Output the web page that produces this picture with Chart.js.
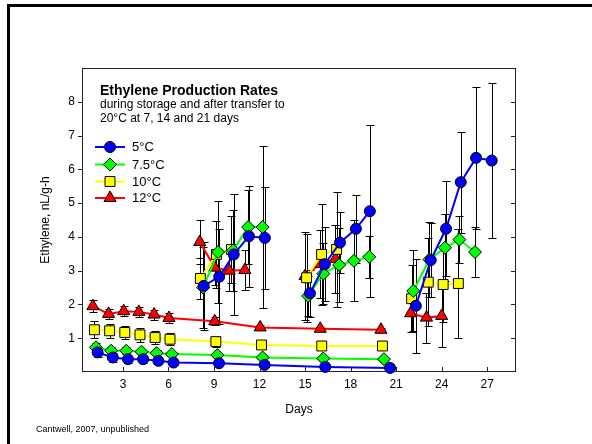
<!DOCTYPE html>
<html><head><meta charset="utf-8">
<script src="https://cdn.jsdelivr.net/npm/chart.js@4/dist/chart.umd.min.js"></script>
<style>
html,body{margin:0;padding:0;background:#fff;}
#wrap{position:relative;width:592px;height:444px;overflow:hidden;}
#frame{position:absolute;left:7px;top:4px;width:600px;height:460px;border-top:3px solid #000;border-left:3px solid #000;pointer-events:none;}
canvas{position:absolute;left:0;top:0;}
</style></head><body>
<div id="wrap"><canvas id="c" width="592" height="444"></canvas><div id="frame"></div></div>
<script>
// ---- data (null separates storage / transfer segments) ----
const seriesNames = ["5°C", "7.5°C", "10°C", "12°C"];
const xTickVals = [3, 6, 9, 12, 15, 18, 21, 24, 27];
const yTickVals = [1, 2, 3, 4, 5, 6, 7, 8];

const c5Days = [1.33,2.33,3.33,4.33,5.33,6.33,9.33,12.33,16.33,20.6, null, 8.32,9.34,10.3,11.3,12.35, null, 15.32,16.3,17.3,18.35,19.27, null, 22.3,23.28,24.29,25.26,26.27,27.3];
const c5Vals = [0.58,0.43,0.38,0.38,0.33,0.28,0.26,0.21,0.15,0.12, null, 2.55,2.82,3.48,4.02,3.97, null, 2.33,3.19,3.83,4.24,4.76, null, 1.96,3.31,4.24,5.62,6.34,6.26];
const c5Err  = [0.14,0.12,0.1,0.1,0.08,0.07,0.06,0.05,0.04,0.04, null, 1.3,1.4,1.8,1.5,1.5, null, 0.7,1.1,0.9,1.0,2.55, null, 1.4,1.1,1.4,1.5,2.1,2.3];

const c75Days = [1.22,2.22,3.22,4.22,5.22,6.22,9.22,12.2,16.2,20.2, null, 8.28,9.27,10.26,11.25,12.2, null, 15.2,16.2,17.25,18.22,19.23, null, 22.13,23.19,24.22,25.17,26.2];
const c75Vals = [0.73,0.63,0.63,0.6,0.56,0.53,0.5,0.43,0.4,0.38, null, 2.5,3.55,3.6,4.29,4.29, null, 2.25,2.91,3.17,3.29,3.41, null, 2.4,3.33,3.68,3.92,3.55];
const c75Err  = [0.12,0.1,0.1,0.08,0.08,0.07,0.06,0.05,0.05,0.05, null, 1.2,1.5,1.2,1.1,2.4, null, 0.6,0.9,1.1,1.2,0.62, null, 1.2,1.1,1.0,0.7,0.74];

const c10Days = [1.12,2.12,3.12,4.12,5.12,6.1,9.12,12.13,16.1,20.1, null, 8.1,9.16,10.15, null, 15.1,16.09,17.08, null, 22.02,23.12,24.1,25.1];
const c10Vals = [1.25,1.22,1.17,1.1,1.02,0.97,0.9,0.8,0.77,0.77, null, 2.77,3.48,3.63, null, 2.79,3.48,3.63, null, 2.17,2.66,2.59,2.62];
const c10Err  = [0.25,0.2,0.2,0.2,0.18,0.18,0.15,0.12,0.1,0.1, null, 0.6,1.0,1.0, null, 1.3,1.5,1.7, null, 1.0,1.3,1.1,1.6];

const c12Days = [1.02,2.05,3.05,4.05,5.05,6.03,9.05,12.04,16.0,20.0, null, 8.06,9.05,10.0,11.03, null, 15.0,16.0,17.0, null, 21.96,23.0,24.0];
const c12Vals = [1.95,1.72,1.8,1.78,1.7,1.6,1.5,1.32,1.28,1.25, null, 3.85,3.09,3.0,3.02, null, 2.84,3.2,3.35, null, 1.74,1.61,1.66];
const c12Err  = [0.18,0.15,0.15,0.15,0.15,0.15,0.12,0.08,0.06,0.06, null, 0.65,0.5,0.6,0.6, null, 1.3,1.0,1.0, null, 0.56,0.74,0.93];

const colors = ["#0000ff", "#00ff00", "#ffff00", "#ff0000"];
const styles = ["circle", "rectRot", "rect", "triangle"];
const radii = [5.5, 6.5, 7, 7];
const allDays = [c5Days, c75Days, c10Days, c12Days];
const allVals = [c5Vals, c75Vals, c10Vals, c12Vals];
const allErr = [c5Err, c75Err, c10Err, c12Err];

// split each series at null entries into separate line segments
function segments(days, vals, errs) {
  const out = []; let cur = { data: [], errs: [] };
  days.forEach((d, i) => {
    if (d === null) { out.push(cur); cur = { data: [], errs: [] }; return; }
    cur.data.push({ x: d, y: vals[i] }); cur.errs.push(errs[i]);
  });
  out.push(cur);
  return out;
}

const datasets = [];
seriesNames.forEach((n, i) => {
  segments(allDays[i], allVals[i], allErr[i]).forEach(seg => {
    datasets.push({
      label: n,
      data: seg.data,
      errs: seg.errs,
      borderColor: colors[i],
      backgroundColor: colors[i],
      borderWidth: 2,
      pointStyle: styles[i],
      pointRadius: radii[i],
      pointBackgroundColor: colors[i],
      pointBorderColor: "#000",
      pointBorderWidth: 1,
      tension: 0,
      clip: false
    });
  });
});

function marker(ctx, style, x, y, r, fill) {
  ctx.beginPath();
  if (style === "circle") ctx.arc(x, y, r, 0, Math.PI * 2);
  else if (style === "rectRot") { ctx.moveTo(x - r, y); ctx.lineTo(x, y - r); ctx.lineTo(x + r, y); ctx.lineTo(x, y + r); ctx.closePath(); }
  else if (style === "rect") { const s = r * Math.SQRT1_2; ctx.rect(x - s, y - s, 2 * s, 2 * s); }
  else { const w = r * Math.sin(Math.PI / 3); ctx.moveTo(x, y - r); ctx.lineTo(x + w, y + r / 2); ctx.lineTo(x - w, y + r / 2); ctx.closePath(); }
  ctx.fillStyle = fill; ctx.fill();
  ctx.strokeStyle = "#000"; ctx.lineWidth = 1; ctx.stroke();
}

const FONT = "'Liberation Sans', Arial, sans-serif";

const extras = {
  id: "extras",
  beforeDatasetsDraw(chart) {
    const { ctx, chartArea: a, scales: { y } } = chart;
    ctx.save();
    ctx.strokeStyle = "#222"; ctx.lineWidth = 1;
    ctx.strokeRect(a.left + 0.5, a.top + 0.5, a.right - a.left - 1, a.bottom - a.top - 1);
    ctx.strokeStyle = "#000";
    for (let di = chart.data.datasets.length - 1; di >= 0; di--) {
      const meta = chart.getDatasetMeta(di);
      const ds = chart.data.datasets[di];
      meta.data.forEach((pt, i) => {
        const e = ds.errs[i];
        const v = ds.data[i].y;
        if (e == null || v == null) return;
        const px = Math.round(pt.x) + 0.5;
        const y1 = Math.round(y.getPixelForValue(v + e)) + 0.5;
        const y2 = Math.round(y.getPixelForValue(v - e)) + 0.5;
        ctx.beginPath();
        ctx.moveTo(px, y1); ctx.lineTo(px, y2);
        ctx.moveTo(px - 4, y1); ctx.lineTo(px + 4, y1);
        ctx.moveTo(px - 4, y2); ctx.lineTo(px + 4, y2);
        ctx.stroke();
      });
    }
    ctx.restore();
  },
  afterDraw(chart) {
    const { ctx, chartArea: a, scales: { x, y } } = chart;
    ctx.save();
    ctx.strokeStyle = "#222"; ctx.lineWidth = 1;
    ctx.beginPath();
    yTickVals.forEach(v => {
      const py = Math.round(y.getPixelForValue(v)) + 0.5;
      ctx.moveTo(a.left - 4, py); ctx.lineTo(a.left, py);
      ctx.moveTo(a.right - 5, py); ctx.lineTo(a.right, py);
    });
    xTickVals.forEach(v => {
      const px = Math.round(x.getPixelForValue(v)) + 0.5;
      ctx.moveTo(px, a.bottom - 5); ctx.lineTo(px, a.bottom);
    });
    ctx.stroke();

    ctx.fillStyle = "#000";
    ctx.font = "12px " + FONT;
    ctx.textAlign = "center"; ctx.textBaseline = "middle";
    ctx.fillText("Days", (a.left + a.right) / 2, 410);
    ctx.save();
    ctx.translate(46, (a.top + a.bottom) / 2);
    ctx.rotate(-Math.PI / 2);
    ctx.fillText("Ethylene, nL/g-h", 0, 0);
    ctx.restore();

    ctx.textAlign = "left";
    ctx.font = "bold 14px " + FONT;
    ctx.fillText("Ethylene Production Rates", a.left + 18, 91);
    ctx.font = "12px " + FONT;
    ctx.fillText("during storage and after transfer to", a.left + 18, 104.5);
    ctx.fillText("20°C at 7, 14 and 21 days", a.left + 18, 118.5);
    const ly = [147, 164.5, 181.5, 198];
    seriesNames.forEach((n, i) => {
      ctx.strokeStyle = colors[i]; ctx.lineWidth = 2;
      ctx.beginPath(); ctx.moveTo(a.left + 13, ly[i]); ctx.lineTo(a.left + 43, ly[i]); ctx.stroke();
      marker(ctx, styles[i], a.left + 28, ly[i], radii[i], colors[i]);
      ctx.fillStyle = "#000";
      ctx.font = "13px " + FONT;
      ctx.fillText(n, a.left + 50, ly[i] + 0.5);
    });

    ctx.font = "9px " + FONT;
    ctx.fillText("Cantwell, 2007, unpublished", 36, 430);
    ctx.restore();
  }
};

new Chart(document.getElementById("c"), {
  type: "line",
  data: { datasets },
  options: {
    responsive: false,
    devicePixelRatio: 1,
    animation: false,
    layout: { padding: { left: 0, right: 76, top: 68, bottom: 0 } },
    plugins: { legend: { display: false }, tooltip: { enabled: false } },
    scales: {
      x: {
        type: "linear", min: 0.3, max: 28.9,
        afterBuildTicks: s => { s.ticks = xTickVals.map(v => ({ value: v })); },
        afterFit: s => { s.height = 72; },
        ticks: { color: "#000", font: { size: 12, family: FONT }, padding: 5, maxRotation: 0, autoSkip: false },
        grid: { display: false, drawTicks: false }, border: { display: false }
      },
      y: {
        type: "linear", min: 0, max: 9,
        afterBuildTicks: s => { s.ticks = yTickVals.map(v => ({ value: v })); },
        afterFit: s => { s.width = 82; },
        ticks: { color: "#000", font: { size: 12, family: FONT }, padding: 7 },
        grid: { display: false, drawTicks: false }, border: { display: false }
      }
    }
  },
  plugins: [extras]
});
</script>
</body></html>
